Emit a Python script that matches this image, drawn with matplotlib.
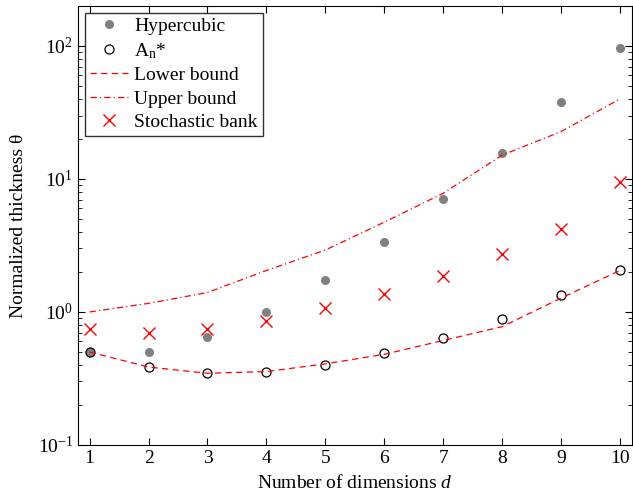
import matplotlib
matplotlib.use('Agg')
import matplotlib.pyplot as plt
import numpy as np

plt.rcParams['font.family'] = ['Liberation Serif', 'DejaVu Serif']
plt.rcParams['mathtext.fontset'] = 'custom'
plt.rcParams['mathtext.rm'] = 'Liberation Serif'
plt.rcParams['mathtext.it'] = 'Liberation Serif:italic'

# data
dims = [1, 2, 3, 4, 5, 6, 7, 8, 9, 10]
hypercubic = [0.5, 0.5, 0.645, 1.0, 1.73, 3.34, 7.03, 15.8, 37.9, 96.0]
an_star = [0.5, 0.384, 0.348, 0.356, 0.402, 0.489, 0.641, 0.891, 1.33, 2.05]
lower_bound = [0.5, 0.385, 0.346, 0.356, 0.407, 0.48, 0.61, 0.775, 1.27, 2.05]
upper_bound = [1.0, 1.16, 1.40, 2.05, 2.92, 4.73, 7.8, 15.1, 22.7, 40.0]
stochastic = [0.741, 0.692, 0.741, 0.856, 1.07, 1.37, 1.87, 2.73, 4.19, 9.44]

fig = plt.figure(figsize=(6.33, 4.96), dpi=100)
ax = fig.add_axes([0.123, 0.103, 0.875, 0.885])

ax.semilogy(dims, hypercubic, 'o', color='#808080', markersize=5.5, label='Hypercubic')
ax.semilogy(dims, an_star, 'o', mfc='none', mec='k', markersize=6.5, mew=0.9,
            label='A$_{\\mathrm{n}}$*')
ax.semilogy(dims, lower_bound, '--', color='red', lw=0.9, dashes=(5, 3.5), label='Lower bound')
ax.semilogy(dims, upper_bound, '-.', color='red', lw=0.9, dashes=(5, 2.5, 1, 2.5), label='Upper bound')
ax.semilogy(dims, stochastic, 'x', color='red', markersize=9, mew=1.0, label='Stochastic bank')

ax.set_xlim(0.8, 10.2)
ax.set_ylim(0.1, 200)
ax.set_xticks(dims)
ax.tick_params(which='both', direction='in', top=True, right=True, labelsize=14)
ax.tick_params(which='major', length=5)
ax.tick_params(which='minor', length=3)
ax.tick_params(axis='x', which='minor', top=False, bottom=False)

ax.set_xlabel('Number of dimensions $d$', fontsize=14, labelpad=5)
ax.set_ylabel('Normalized thickness θ', fontsize=14, labelpad=8)

leg = ax.legend(loc='upper left', fontsize=14, frameon=True, fancybox=False,
                edgecolor='k', borderpad=0.25, labelspacing=0.3, handlelength=2.0,
                handletextpad=0.3, borderaxespad=0.35)
leg.get_frame().set_linewidth(1.0)

fig.savefig('out.png', dpi=100)
